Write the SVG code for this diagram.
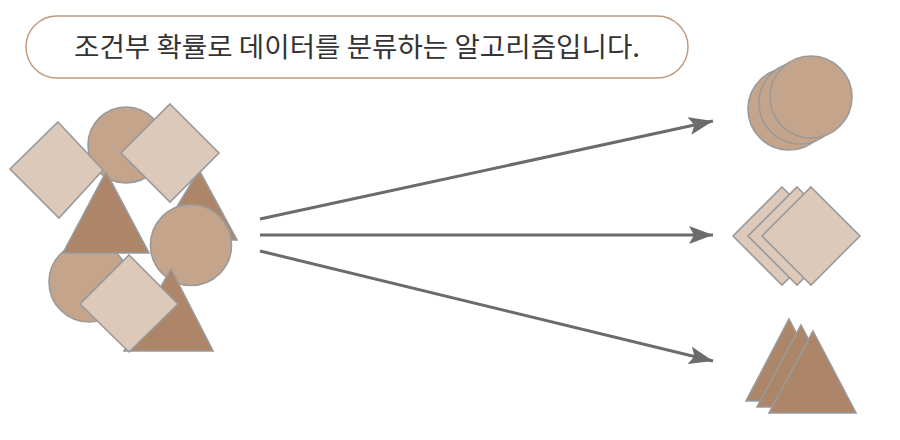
<svg xmlns="http://www.w3.org/2000/svg" width="900" height="440" viewBox="0 0 900 440">
<defs>
<style>
.d{fill:#dcc9b9;stroke:#9a9a9a;stroke-width:1.6;stroke-linejoin:miter}
.c{fill:#c4a48b;stroke:#9a9a9a;stroke-width:1.6}
.t{fill:#ad8568;stroke:#9a9a9a;stroke-width:1.6;stroke-linejoin:miter}
.a{fill:none;stroke:#6b6b6d;stroke-width:3}
.lbl{font-family:"Noto Sans CJK KR","Noto Sans",sans-serif;font-size:27px;fill:#333}
</style>
<marker id="ah" markerUnits="userSpaceOnUse" markerWidth="26" markerHeight="20" refX="24" refY="9" orient="auto">
<path d="M0,0 L24,9 L0,18 L5,9 z" fill="#6b6b6d"/>
</marker>
</defs>
<g id="title">
<rect x="26" y="16" width="662" height="62" rx="31" ry="31" fill="#fff" stroke="#c09a80" stroke-width="1.5"/>
<text class="lbl" x="357" y="57" text-anchor="middle" textLength="566" lengthAdjust="spacingAndGlyphs">조건부 확률로 데이터를 분류하는 알고리즘입니다.</text>
</g>
<g id="mixed">
<circle class="c" cx="126" cy="145" r="38"/>
<polygon class="d" points="58,122 103,170 59,218 10,169"/>
<polygon class="t" points="199,170 237,240 157,240"/>
<polygon class="d" points="170,104 219,153 170,202 121,153"/>
<circle class="c" cx="191" cy="245" r="40.5"/>
<circle class="c" cx="89" cy="282" r="40"/>
<polygon class="t" points="106,172 149,253 63,253"/>
<polygon class="t" points="171,269 213,351 124,351"/>
<polygon class="d" points="129,255 178,304 129,352 80,304"/>
</g>
<g id="connectors">
<line class="a" x1="260" y1="219" x2="713" y2="121" marker-end="url(#ah)"/>
<line class="a" x1="260" y1="235" x2="713" y2="235" marker-end="url(#ah)"/>
<line class="a" x1="260" y1="251" x2="713" y2="361" marker-end="url(#ah)"/>
</g>
<g id="circles">
<circle class="c" cx="789" cy="109" r="41"/>
<circle class="c" cx="800" cy="103" r="41"/>
<circle class="c" cx="811" cy="97" r="41"/>
</g>
<g id="diamonds">
<polygon class="d" points="782,187 831,236 782,285 733,236"/>
<polygon class="d" points="797,187 846,236 797,285 748,236"/>
<polygon class="d" points="811,187 860,236 811,285 762,236"/>
</g>
<g id="triangles">
<polygon class="t" points="789,319 832,401 746,401"/>
<polygon class="t" points="801,325 844,407 757,407"/>
<polygon class="t" points="813,331 856,413 769,413"/>
</g>
</svg>
